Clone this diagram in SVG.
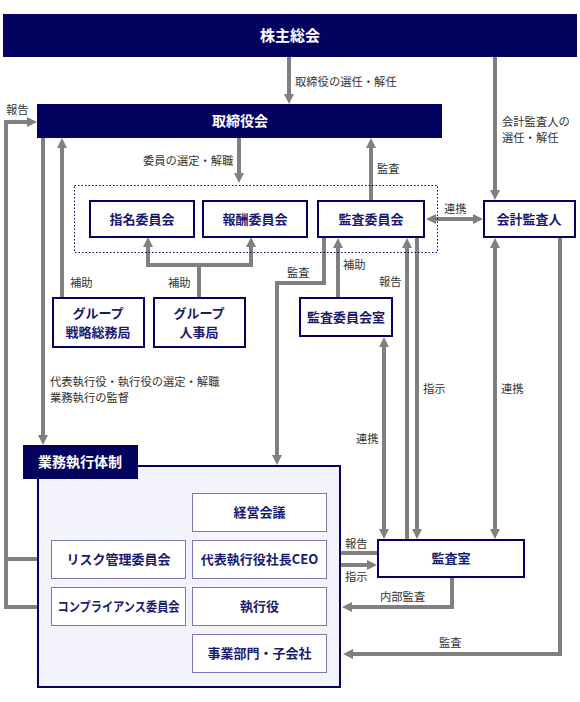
<svg xmlns="http://www.w3.org/2000/svg" width="580" height="702" viewBox="0 0 580 702">
<style>
text{font-family:"Noto Sans CJK JP","Noto Sans",sans-serif}
.bar{fill:#03035f}
.wt{fill:#fff;font-weight:bold;text-anchor:middle}
.box{fill:#fff;stroke:#03035f;stroke-width:2}
.ibox{fill:#fff;stroke:#7a7ab0;stroke-width:1}
.nt{fill:#1a1a6e;font-weight:bold;font-size:13px;text-anchor:middle}
.lb{fill:#333;font-size:11.3px}
.cn{fill:none;stroke:#808080;stroke-width:4}
</style>
<defs>
<marker id="ah" viewBox="0 0 10 10" refX="2" refY="5" markerWidth="10" markerHeight="10" markerUnits="userSpaceOnUse" orient="auto-start-reverse">
<path d="M0,0 L10,5 L0,10 z" fill="#808080"/>
</marker>
</defs>

<g id="connectors">
<path class="cn" d="M289,57 V96" marker-end="url(#ah)"/>
<path class="cn" d="M495,57 V192" marker-end="url(#ah)"/>
<path class="cn" d="M51,607 H6 V122 H29" marker-end="url(#ah)"/>
<path class="cn" d="M6,559 H51"/>
<path class="cn" d="M43,138 V437" marker-end="url(#ah)"/>
<path class="cn" d="M62,298 V146" marker-end="url(#ah)"/>
<path class="cn" d="M239,138 V175" marker-end="url(#ah)"/>
<path class="cn" d="M371,200 V146" marker-end="url(#ah)"/>
<path class="cn" d="M434,219 H475" marker-start="url(#ah)" marker-end="url(#ah)"/>
<path class="cn" d="M199,298 V265"/>
<path class="cn" d="M148,245 V265 H251 V245" marker-start="url(#ah)" marker-end="url(#ah)"/>
<path class="cn" d="M324,238 V283 H277 V457" marker-end="url(#ah)"/>
<path class="cn" d="M338,298 V246" marker-end="url(#ah)"/>
<path class="cn" d="M384,345 V531" marker-start="url(#ah)" marker-end="url(#ah)"/>
<path class="cn" d="M407,540 V246" marker-end="url(#ah)"/>
<path class="cn" d="M417,238 V531" marker-end="url(#ah)"/>
<path class="cn" d="M495,246 V531" marker-start="url(#ah)" marker-end="url(#ah)"/>
<path class="cn" d="M560,238 V654 H351" marker-end="url(#ah)"/>
<path class="cn" d="M378,553 H336" marker-end="url(#ah)"/>
<path class="cn" d="M327,565 H369" marker-end="url(#ah)"/>
<path class="cn" d="M452,577 V607 H350" marker-end="url(#ah)"/>
</g>

<g id="labels">
<text class="lb" x="295" y="86">取締役の選任・解任</text>
<text class="lb" x="502" y="126">会計監査人の</text>
<text class="lb" x="502" y="142">選任・解任</text>
<text class="lb" x="6" y="114">報告</text>
<text class="lb" x="143" y="165">委員の選定・解職</text>
<text class="lb" x="377" y="173">監査</text>
<text class="lb" x="444" y="213">連携</text>
<text class="lb" x="343" y="269">補助</text>
<text class="lb" x="287" y="277">監査</text>
<text class="lb" x="379" y="286">報告</text>
<text class="lb" x="70" y="287">補助</text>
<text class="lb" x="168" y="287">補助</text>
<text class="lb" x="50" y="386">代表執行役・執行役の選定・解職</text>
<text class="lb" x="50" y="402">業務執行の監督</text>
<text class="lb" x="423" y="393">指示</text>
<text class="lb" x="501" y="393">連携</text>
<text class="lb" x="356" y="443">連携</text>
<text class="lb" x="345" y="548">報告</text>
<text class="lb" x="345" y="581">指示</text>
<text class="lb" x="380" y="601">内部監査</text>
<text class="lb" x="439" y="647">監査</text>
</g>

<g id="shareholders">
<rect class="bar" x="3" y="14" width="574" height="43"/>
<text class="wt" x="290" y="41" font-size="15">株主総会</text>
</g>
<g id="board">
<rect class="bar" x="37" y="104" width="405" height="34"/>
<text class="wt" x="240" y="126" font-size="14">取締役会</text>
</g>
<g id="committees">
<rect x="74.5" y="185.5" width="363" height="67" fill="none" stroke="#03035f" stroke-width="1" stroke-dasharray="1.5,2"/>
</g>
<g id="nomination">
<rect class="box" x="90" y="201" width="104" height="36"/>
<text class="nt" x="142" y="224">指名委員会</text>
</g>
<g id="compensation">
<rect class="box" x="203" y="201" width="104" height="36"/>
<text class="nt" x="255" y="224">報酬委員会</text>
</g>
<g id="audit-committee">
<rect class="box" x="318" y="201" width="106" height="36"/>
<text class="nt" x="371" y="224">監査委員会</text>
</g>
<g id="accounting-auditor">
<rect class="box" x="484" y="201" width="91" height="36"/>
<text class="nt" x="529" y="224">会計監査人</text>
</g>
<g id="group-strategy">
<rect class="box" x="53" y="298" width="91" height="49"/>
<text class="nt" x="98" y="318">グループ</text>
<text class="nt" x="98" y="337">戦略総務局</text>
</g>
<g id="group-hr">
<rect class="box" x="154" y="298" width="91" height="49"/>
<text class="nt" x="199" y="318">グループ</text>
<text class="nt" x="199" y="337">人事局</text>
</g>
<g id="audit-committee-office">
<rect class="box" x="300" y="298" width="92" height="38"/>
<text class="nt" x="346" y="322">監査委員会室</text>
</g>
<g id="execution">
<rect x="38" y="466" width="302" height="221" fill="#f3f3fc" stroke="#03035f" stroke-width="2"/>
<rect class="bar" x="23" y="445" width="115" height="34"/>
<text class="wt" x="80" y="467" font-size="14">業務執行体制</text>
</g>
<g id="management-meeting">
<rect class="ibox" x="192.5" y="493.5" width="134" height="38"/>
<text class="nt" x="259.5" y="517">経営会議</text>
</g>
<g id="ceo">
<rect class="ibox" x="192.5" y="540.5" width="134" height="38"/>
<text class="nt" x="259.5" y="564">代表執行役社長CEO</text>
</g>
<g id="officers">
<rect class="ibox" x="192.5" y="587.5" width="134" height="38"/>
<text class="nt" x="259.5" y="611">執行役</text>
</g>
<g id="business-units">
<rect class="ibox" x="192.5" y="634.5" width="134" height="38"/>
<text class="nt" x="259.5" y="658">事業部門・子会社</text>
</g>
<g id="risk-committee">
<rect class="ibox" x="51.5" y="540.5" width="134" height="38"/>
<text class="nt" x="118.5" y="564" font-size="12.5">リスク管理委員会</text>
</g>
<g id="compliance-committee">
<rect class="ibox" x="51.5" y="587.5" width="134" height="38"/>
<text class="nt" x="118.5" y="611" font-size="12" textLength="122" lengthAdjust="spacingAndGlyphs">コンプライアンス委員会</text>
</g>
<g id="audit-office">
<rect class="box" x="378" y="540" width="146" height="37"/>
<text class="nt" x="451" y="563">監査室</text>
</g>
</svg>
